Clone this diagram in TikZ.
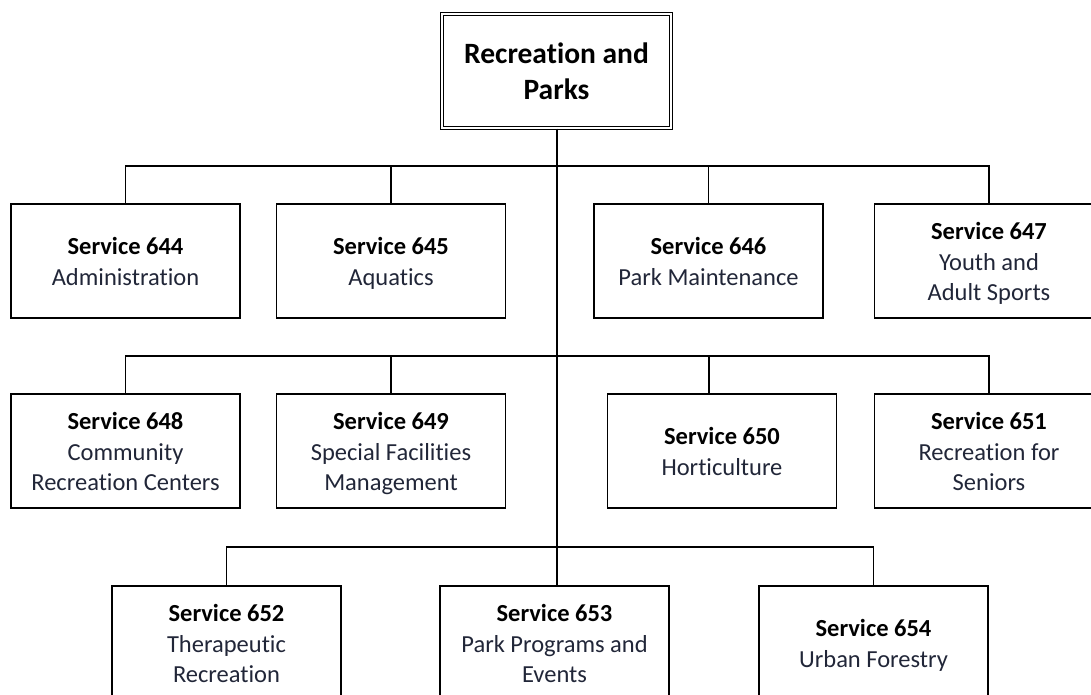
\documentclass[tikz,border=0pt]{standalone}
\usepackage{fontspec}
\setmainfont[Ligatures={NoCommon}]{Carlito}
\definecolor{descr}{rgb}{0.13,0.15,0.22}
\newcommand{\tallstrut}{\rule{0pt}{27.5pt}}
\newcommand{\svc}[2]{\textcolor{black}{\textbf{Service #1}}\tallstrut\\#2\strut}
\begin{document}
\begin{tikzpicture}[x=1pt,y=-1pt]
      \tikzstyle{every node}+=[inner sep=0pt]
      \tikzstyle{svcbox}=[draw=black, line width=1.2pt, minimum width=229pt, minimum height=114pt, align=center, text=descr, font=\fontsize{24.5}{30.5}\selectfont]
      \tikzstyle{link}=[draw=black, line width=1.2pt]
      \useasboundingbox (0,0) rectangle (1091,694);
      % head
      \node [draw=black, double, line width=1.1pt, double distance=2.6pt, minimum width=229pt, minimum height=114pt, align=center, font=\fontsize{29.5}{36}\selectfont\bfseries] (top) at (556.5,71) {Recreation and\rule{0pt}{32pt}\\Parks\strut};
      % first row
      \node [svcbox] (b644) at (125.5,261) {\svc{644}{Administration}};
      \node [svcbox] (b645) at (391,261) {\svc{645}{Aquatics}};
      \node [svcbox] (b646) at (708.5,261) {\svc{646}{Park Maintenance}};
      \node [svcbox] (b647) at (989,261) {\svc{647}{Youth and\\Adult Sports}};
      % second row
      \node [svcbox] (b648) at (125.5,451) {\svc{648}{Community\\Recreation Centers}};
      \node [svcbox] (b649) at (391,451) {\svc{649}{Special Facilities\\Management}};
      \node [svcbox] (b650) at (722,451) {\svc{650}{Horticulture}};
      \node [svcbox] (b651) at (989,451) {\svc{651}{Recreation for\\Seniors}};
      % third row
      \node [svcbox] (b652) at (226.5,643) {\svc{652}{Therapeutic\\Recreation}};
      \node [svcbox] (b653) at (554.5,643) {\svc{653}{Park Programs and\\Events}};
      \node [svcbox] (b654) at (873.5,643) {\svc{654}{Urban Forestry}};
      \coordinate (r1) at (557,166);
      \coordinate (r2) at (557,356);
      \coordinate (r3) at (557,547);
      \coordinate (d650) at (709,356);
      \draw [link] (r1 |- top.south) -- (r1 |- b653.north);
      \draw [link] (b644.north) -- (b644.north |- r1) -- (b647.north |- r1) -- (b647.north);
      \draw [link] (b645.north) -- (b645.north |- r1);
      \draw [link] (b646.north) -- (b646.north |- r1);
      \draw [link] (b648.north) -- (b648.north |- r2) -- (b651.north |- r2) -- (b651.north);
      \draw [link] (b649.north) -- (b649.north |- r2);
      \draw [link] (d650) -- (d650 |- b650.north);
      \draw [link] (b652.north) -- (b652.north |- r3) -- (b654.north |- r3) -- (b654.north);
\end{tikzpicture}
\end{document}
